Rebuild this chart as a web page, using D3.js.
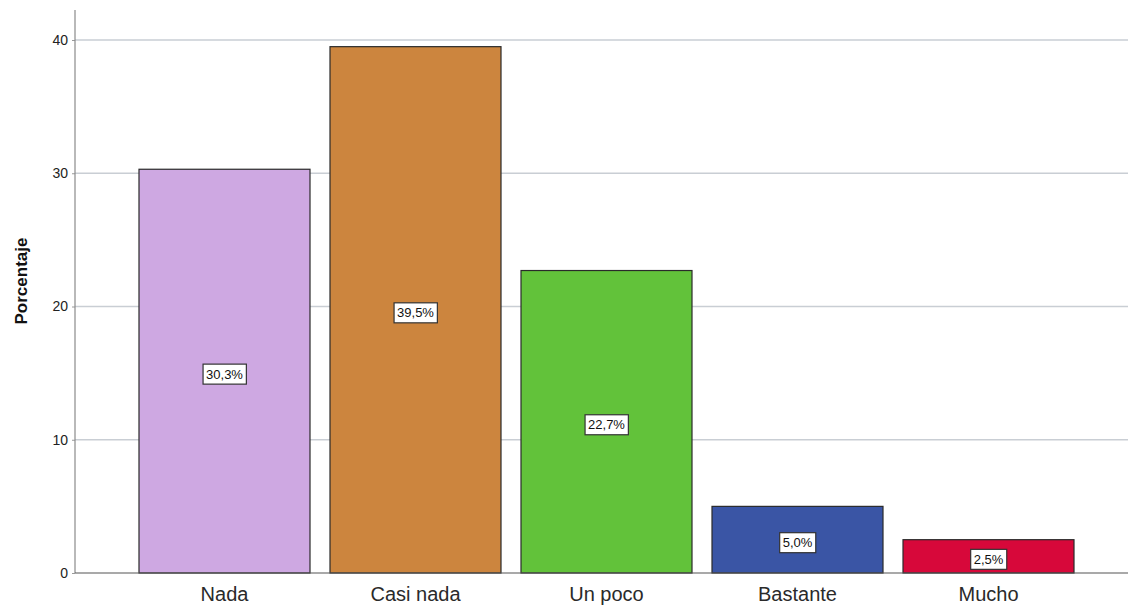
<!DOCTYPE html>
<html><head><meta charset="utf-8">
<script src="https://cdn.jsdelivr.net/npm/d3@7"></script>
<style>body{margin:0;background:#fff}svg{display:block}</style>
</head><body>
<svg id="c" width="1130" height="609"></svg>
<script>
const categories = ["Nada","Casi nada","Un poco","Bastante","Mucho"];
const values = [30.3, 39.5, 22.7, 5.0, 2.5];
const labels = ["30,3%","39,5%","22,7%","5,0%","2,5%"];
const colors = ["#cea8e2","#cc853e","#62c23a","#3a55a5","#d7083a"];
const yTicks = [0,10,20,30,40];

const svg = d3.select("#c");
const x0 = 75, x1 = 1128, yBase = 573;
const x = d3.scaleBand().domain(categories).range([129,1084]).paddingInner(20/191).paddingOuter(10/191);
const y = d3.scaleLinear().domain([0,40]).range([yBase, 40]);
const font = "Arial, 'Liberation Sans', sans-serif";

// gridlines
svg.append("g").selectAll("line").data(yTicks.filter(d=>d>0)).join("line")
  .attr("x1",x0).attr("x2",x1).attr("y1",d=>y(d)).attr("y2",d=>y(d))
  .attr("stroke","#c9ced4").attr("stroke-width",1.3);

// y axis
const ya = svg.append("g").attr("transform",`translate(${x0},0)`)
  .call(d3.axisLeft(y).tickValues(yTicks).tickSize(3).tickPadding(4).tickFormat(d3.format("d")));
ya.select(".domain").remove();
ya.selectAll(".tick line").attr("stroke","#999");
ya.selectAll("text").attr("font-family",font).attr("font-size",14).attr("fill","#222");
svg.append("line").attr("x1",x0).attr("x2",x0).attr("y1",10).attr("y2",yBase).attr("stroke","#8a8a8a").attr("stroke-width",1.2);

// bars
svg.append("g").selectAll("rect").data(categories).join("rect")
  .attr("x",d=>x(d)).attr("width",x.bandwidth())
  .attr("y",(d,i)=>y(values[i])).attr("height",(d,i)=>yBase-y(values[i]))
  .attr("fill",(d,i)=>colors[i]).attr("stroke","#2a2a2a").attr("stroke-width",1.2);

// baseline
svg.append("line").attr("x1",x0).attr("x2",x1).attr("y1",yBase).attr("y2",yBase).attr("stroke","#555").attr("stroke-width",1.2);

// x labels
const xa = svg.append("g").attr("transform",`translate(0,${yBase})`)
  .call(d3.axisBottom(x).tickSize(0).tickPadding(14));
xa.select(".domain").remove();
xa.selectAll("text").attr("font-family",font).attr("font-size",20).attr("fill","#2a2a2a");

// value labels
const lg = svg.append("g").selectAll("g").data(categories).join("g")
  .attr("transform",(d,i)=>`translate(${x(d)+x.bandwidth()/2},${y(values[i]/2)+3})`);
lg.each(function(d,i){
  const g = d3.select(this);
  const t = g.append("text").text(labels[i]).attr("text-anchor","middle").attr("dy","0.35em")
    .attr("font-family",font).attr("font-size",13).attr("fill","#111");
  const b = t.node().getBBox();
  g.insert("rect","text").attr("x",b.x-3).attr("y",-10).attr("width",b.width+6).attr("height",20)
    .attr("fill","#fff").attr("stroke","#333").attr("stroke-width",1.2);
});

// y title
svg.append("text").attr("transform","translate(27,281) rotate(-90)").attr("text-anchor","middle")
  .attr("font-family",font).attr("font-size",17).attr("font-weight","bold").attr("fill","#111")
  .text("Porcentaje");
</script>
</body></html>
